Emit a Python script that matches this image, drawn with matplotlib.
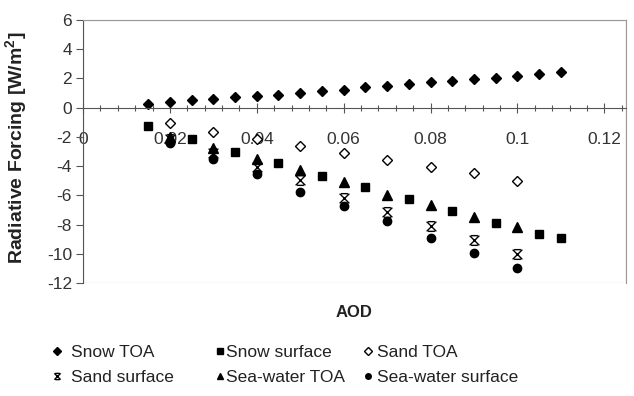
import matplotlib
matplotlib.use('Agg')
import matplotlib.pyplot as plt
from matplotlib.path import Path
from matplotlib.patches import Rectangle
from matplotlib.ticker import MultipleLocator, FuncFormatter
from matplotlib.lines import Line2D

plt.rcParams['font.family'] = ['Liberation Sans', 'DejaVu Sans']
plt.rcParams['mathtext.fontset'] = 'custom'
plt.rcParams['mathtext.rm'] = 'Liberation Sans'
plt.rcParams['mathtext.bf'] = 'Liberation Sans:bold'
plt.rcParams['axes.unicode_minus'] = False

# values
snow_toa_x = [0.015, 0.02, 0.025, 0.03, 0.035, 0.04, 0.045, 0.05, 0.055, 0.06,
              0.065, 0.07, 0.075, 0.08, 0.085, 0.09, 0.095, 0.1, 0.105, 0.11]
snow_toa = [0.25, 0.41, 0.53, 0.62, 0.71, 0.78, 0.87, 0.97, 1.12, 1.21,
            1.40, 1.49, 1.62, 1.74, 1.83, 1.94, 2.03, 2.19, 2.31, 2.42]

snow_sfc_x = [0.015, 0.025, 0.035, 0.045, 0.055, 0.065, 0.075, 0.085, 0.095, 0.105, 0.11]
snow_sfc = [-1.23, -2.16, -3.01, -3.81, -4.66, -5.45, -6.27, -7.05, -7.88, -8.67, -8.95]

aod10 = [0.02, 0.03, 0.04, 0.05, 0.06, 0.07, 0.08, 0.09, 0.1]
sand_toa = [-1.07, -1.64, -2.16, -2.62, -3.08, -3.58, -4.04, -4.49, -5.0]
sand_sfc = [-2.15, -3.08, -4.04, -4.95, -6.21, -7.12, -8.10, -9.06, -10.02]
sea_toa = [-2.0, -2.78, -3.53, -4.27, -5.07, -5.98, -6.66, -7.47, -8.15]
sea_sfc = [-2.4, -3.53, -4.54, -5.75, -6.73, -7.74, -8.90, -9.97, -11.0]

x_ticks = [0, 0.02, 0.04, 0.06, 0.08, 0.1, 0.12]
y_ticks = [-12, -10, -8, -6, -4, -2, 0, 2, 4, 6]

# excel style "x" marker with caps
xbar = Path([(-1, -1), (1, 1), (-1, 1), (1, -1), (-0.7, 1), (0.7, 1), (-0.7, -1), (0.7, -1)],
            [Path.MOVETO, Path.LINETO] * 4)

fig = plt.figure(figsize=(6.34, 3.96), dpi=100)
ax = fig.add_axes([83 / 634, 1 - 283 / 396, 543 / 634, 263 / 396])

ax.plot(snow_toa_x, snow_toa, 'D', color='black', ms=5.5, ls='none')
ax.plot(snow_sfc_x, snow_sfc, 's', color='black', ms=5.5, ls='none')
ax.plot(aod10, sand_toa, 'D', mfc='white', mec='black', mew=1, ms=5, ls='none')
ax.plot(aod10, sand_sfc, marker=xbar, mfc='none', mec='black', mew=1, ms=7, ls='none')
ax.plot(aod10, sea_toa, '^', color='black', ms=6.5, ls='none')
ax.plot(aod10, sea_sfc, 'o', color='black', ms=6, ls='none')

ax.set_xlim(0, 0.125)
ax.set_ylim(-12, 6)
ax.set_xticks(x_ticks)
ax.set_yticks(y_ticks)
ax.xaxis.set_minor_locator(MultipleLocator(0.004))
ax.xaxis.set_major_formatter(FuncFormatter(lambda v, p: '%g' % round(v, 3)))

for s in ['top', 'right']:
    ax.spines[s].set_color('#999999')
ax.spines['bottom'].set_position(('data', 0))
ax.spines['bottom'].set_color('#555555')
ax.spines['left'].set_color('#555555')
ax.add_patch(Rectangle((0, 0), 1, 1, transform=ax.transAxes, fill=False,
                       ec='#999999', lw=0.8, zorder=0))

ax.tick_params(axis='x', which='major', direction='inout', length=7, width=0.8,
               color='#555555', pad=14, labelsize=12.5, labelcolor='#333333')
ax.tick_params(axis='x', which='minor', direction='inout', length=5, width=0.8,
               color='#555555')
ax.tick_params(axis='y', direction='out', length=5, width=0.8, color='#555555',
               pad=3, labelsize=12.5, labelcolor='#333333')

ax.set_xlabel('AOD', fontsize=12, fontweight='bold', color='#222222')
ax.xaxis.set_label_coords(0.5, -0.085)
ax.set_ylabel(r'Radiative Forcing [W/m$^{\mathbf{2}}$]', fontsize=14,
              fontweight='bold', color='#222222')
ax.yaxis.set_label_coords(-0.097, 0.515)

h_snow_toa = Line2D([], [], marker='D', color='black', ls='none', ms=4)
h_snow_sfc = Line2D([], [], marker='s', color='black', ls='none', ms=4)
h_sand_toa = Line2D([], [], marker='D', mfc='white', mec='black', ls='none', ms=4)
h_sand_sfc = Line2D([], [], marker=xbar, mfc='none', mec='black', ls='none', ms=4.5)
h_sea_toa = Line2D([], [], marker='^', color='black', ls='none', ms=4.5)
h_sea_sfc = Line2D([], [], marker='o', color='black', ls='none', ms=4)

cols = [
    ([h_snow_toa, h_sand_sfc], ['Snow TOA', 'Sand surface'], 57, 0.5),
    ([h_snow_sfc, h_sea_toa], ['Snow surface', 'Sea-water TOA'], 220, 0.05),
    ([h_sand_toa, h_sea_sfc], ['Sand TOA', 'Sea-water surface'], 368, 0.2),
]
hl = 0.6
for handles, labels, mx, pad in cols:
    leg = fig.legend(handles, labels, loc='center left',
                     bbox_to_anchor=((mx - hl * 17.4 / 2) / 634, 1 - 365 / 396),
                     frameon=False, fontsize=12.5, handlelength=hl,
                     handletextpad=pad, labelspacing=0.55, borderpad=0,
                     borderaxespad=0)
    for t in leg.get_texts():
        t.set_color('#222222')

fig.savefig('out.png', dpi=100)
